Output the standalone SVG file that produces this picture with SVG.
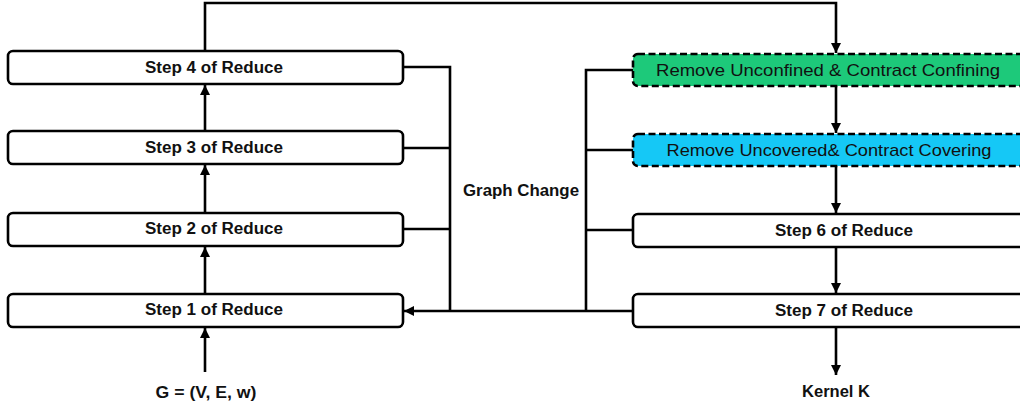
<svg xmlns="http://www.w3.org/2000/svg" width="1020" height="406" viewBox="0 0 1020 406">
<style>
.box{fill:#fff;stroke:#000;stroke-width:2.6}
.dash{stroke:#000;stroke-width:2.6;stroke-dasharray:7 3.5}
.step{font-family:"Liberation Sans",Arial,sans-serif;font-weight:bold;font-size:16px;fill:#111;text-anchor:middle}
.rem{font-family:"Liberation Sans",Arial,sans-serif;font-size:17px;fill:#111;text-anchor:middle}
.lbl{font-family:"Liberation Sans",Arial,sans-serif;font-weight:bold;font-size:16px;fill:#111;text-anchor:middle}
.ln{fill:none;stroke:#000;stroke-width:2.6}
</style>
<defs>
<marker id="ah" viewBox="0 0 10 10" refX="10" refY="5" markerWidth="10" markerHeight="10" markerUnits="userSpaceOnUse" orient="auto">
<path d="M0,0 L10,5 L0,10 Z" fill="#000"/>
</marker>
</defs>
<g id="connectors">
<path class="ln" d="M205,293 V247" marker-end="url(#ah)"/>
<path class="ln" d="M205,213 V165" marker-end="url(#ah)"/>
<path class="ln" d="M205,131 V85" marker-end="url(#ah)"/>
<path class="ln" d="M205,372 V328" marker-end="url(#ah)"/>
<path class="ln" d="M205,51 V3 H836 V53" marker-end="url(#ah)"/>
<path class="ln" d="M836,86 V133" marker-end="url(#ah)"/>
<path class="ln" d="M836,166 V213" marker-end="url(#ah)"/>
<path class="ln" d="M836,247 V293" marker-end="url(#ah)"/>
<path class="ln" d="M836,327 V375" marker-end="url(#ah)"/>
<path class="ln" d="M403,67 H450 V311"/>
<path class="ln" d="M403,148 H450"/>
<path class="ln" d="M403,229 H450"/>
<path class="ln" d="M633,70 H586 V311"/>
<path class="ln" d="M633,150 H586"/>
<path class="ln" d="M633,230 H586"/>
<path class="ln" d="M633,311 H404" marker-end="url(#ah)"/>
</g>
<g id="step4"><rect class="box" x="8" y="51" width="395" height="33" rx="5"/><text class="step" x="214" y="73" textLength="138" lengthAdjust="spacingAndGlyphs">Step 4 of Reduce</text></g>
<g id="step3"><rect class="box" x="8" y="131" width="395" height="33" rx="5"/><text class="step" x="214" y="153" textLength="138" lengthAdjust="spacingAndGlyphs">Step 3 of Reduce</text></g>
<g id="step2"><rect class="box" x="8" y="213" width="395" height="33" rx="5"/><text class="step" x="214" y="234" textLength="138" lengthAdjust="spacingAndGlyphs">Step 2 of Reduce</text></g>
<g id="step1"><rect class="box" x="8" y="294" width="395" height="33" rx="5"/><text class="step" x="214" y="315" textLength="138" lengthAdjust="spacingAndGlyphs">Step 1 of Reduce</text></g>
<g id="confined"><rect class="dash" fill="#1dc97a" x="633" y="54" width="406" height="32" rx="5"/><text class="rem" x="828" y="76" textLength="344" lengthAdjust="spacingAndGlyphs">Remove Unconfined &amp; Contract Confining</text></g>
<g id="covered"><rect class="dash" fill="#15c8f6" x="633" y="134" width="406" height="32" rx="5"/><text class="rem" x="829" y="156" textLength="325" lengthAdjust="spacingAndGlyphs">Remove Uncovered&amp; Contract Covering</text></g>
<g id="step6"><rect class="box" x="633" y="214" width="406" height="33" rx="5"/><text class="step" x="844" y="236" textLength="138" lengthAdjust="spacingAndGlyphs">Step 6 of Reduce</text></g>
<g id="step7"><rect class="box" x="633" y="294" width="406" height="33" rx="5"/><text class="step" x="844" y="316" textLength="138" lengthAdjust="spacingAndGlyphs">Step 7 of Reduce</text></g>
<g id="input"><text class="lbl" x="206" y="398" textLength="101" lengthAdjust="spacingAndGlyphs">G = (V, E, w)</text></g>
<g id="kernel"><text class="lbl" x="836" y="397" textLength="68" lengthAdjust="spacingAndGlyphs">Kernel K</text></g>
<g id="graphchange"><text class="lbl" x="521" y="196" textLength="116" lengthAdjust="spacingAndGlyphs">Graph Change</text></g>
</svg>
